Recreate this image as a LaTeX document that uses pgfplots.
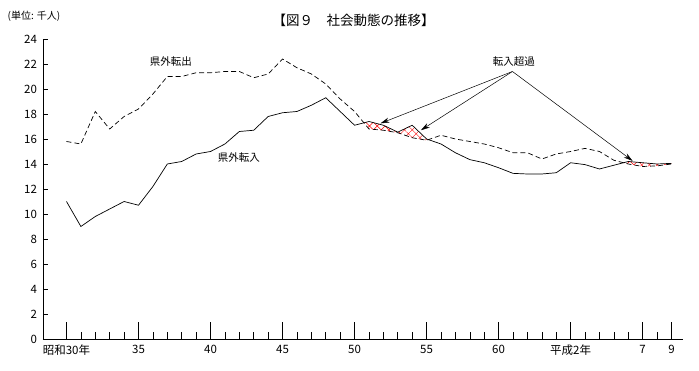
\documentclass[border=0pt]{standalone}
\usepackage{fontspec}
\setmainfont{Noto Sans CJK JP}
\usepackage{pgfplots}
\usepackage{pgfplotstable}
\pgfplotsset{compat=1.18}
\usepgfplotslibrary{fillbetween}
\usetikzlibrary{patterns.meta,arrows.meta}

\pgfplotstableread{
year in out
30 11.0 15.8
31 9.0 15.6
32 9.8 18.2
33 10.4 16.8
34 11.0 17.8
35 10.7 18.4
36 12.2 19.6
37 14.0 21.0
38 14.2 21.0
39 14.8 21.3
40 15.0 21.3
41 15.6 21.4
42 16.6 21.4
43 16.7 20.9
44 17.8 21.2
45 18.1 22.4
46 18.2 21.7
47 18.7 21.2
48 19.3 20.4
49 18.2 19.2
50 17.1 18.2
51 17.4 16.8
52 17.1 16.7
53 16.55 16.5
54 17.1 16.1
55 16.0 15.9
56 15.6 16.3
57 14.9 16.0
58 14.35 15.8
59 14.1 15.6
60 13.7 15.3
61 13.25 14.9
62 13.2 14.9
63 13.2 14.4
64 13.3 14.8
65 14.1 15.0
66 13.95 15.25
67 13.6 15.0
68 13.9 14.3
69 14.2 14.0
70 14.1 13.8
71 14.0 13.85
72 14.05 14.0
}\datatable

\tikzset{hatchred/.style={pattern={Hatch[angle=45,distance=5.5pt,line width=0.45pt]}, pattern color=red}}

\begin{document}
\begin{tikzpicture}
\begin{axis}[
  at={(0pt,0pt)}, anchor=south west,
  scale only axis, width=640pt, height=300pt,
  xmin=28.37, xmax=72.8, ymin=0, ymax=24,
  axis lines*=left,
  axis line style={line width=0.7pt},
  xtick={30,35,40,45,50,55,60,65,70,72},
  xticklabels={昭和30年,35,40,45,50,55,60,平成2年,7,9},
  minor xtick={31,...,71},
  ytick={0,2,...,24},
  tick align=inside,
  xtick style={/pgfplots/major tick length=17pt,/pgfplots/minor tick length=7pt, line width=0.6pt, black},
  ytick style={/pgfplots/major tick length=5pt, line width=0.6pt, black},
  tick label style={font=\fontsize{11.5}{13}\selectfont},
  /pgf/number format/assume math mode=true,
  yticklabel style={xshift=-2.5pt},
  xticklabel style={yshift=-2.5pt},
]
\addplot[black, line width=0.7pt, name path=inn] table[x=year,y=in]{\datatable};
\addplot[black, line width=0.7pt, dash pattern=on 5pt off 3pt, name path=outt] table[x=year,y=out]{\datatable};
\addplot[hatchred, draw=none] fill between[of=inn and outt, soft clip={domain=50.647:55.125}];
\addplot[hatchred, draw=none] fill between[of=inn and outt, soft clip={domain=68.667:72}];

\draw[line width=0.5pt, -{Stealth[length=9pt,width=5pt]}] (axis cs:60.96,21.4) -- (axis cs:51.8,17.25);
\draw[line width=0.5pt, -{Stealth[length=9pt,width=5pt]}] (axis cs:60.96,21.4) -- (axis cs:54.6,16.7);
\draw[line width=0.5pt, -{Stealth[length=9pt,width=5pt]}] (axis cs:60.96,21.4) -- (axis cs:69.3,14.25);

\node[font=\fontsize{10.5}{12}\selectfont] at (axis cs:37.24,22.18) {県外転出};
\node[font=\fontsize{10.5}{12}\selectfont] at (axis cs:41.97,14.54) {県外転入};
\node[font=\fontsize{10.5}{12}\selectfont] at (axis cs:61.05,22.18) {転入超過};
\end{axis}
\node[font=\fontsize{13.5}{15}\selectfont] at (310.5pt,319pt) {【図９　社会動態の推移】};
\node[font=\fontsize{10}{12}\selectfont] at (-9pt,322.5pt) {(単位: 千人)};
\path (-43pt,-32pt) rectangle (656pt,339pt);
\end{tikzpicture}
\end{document}
